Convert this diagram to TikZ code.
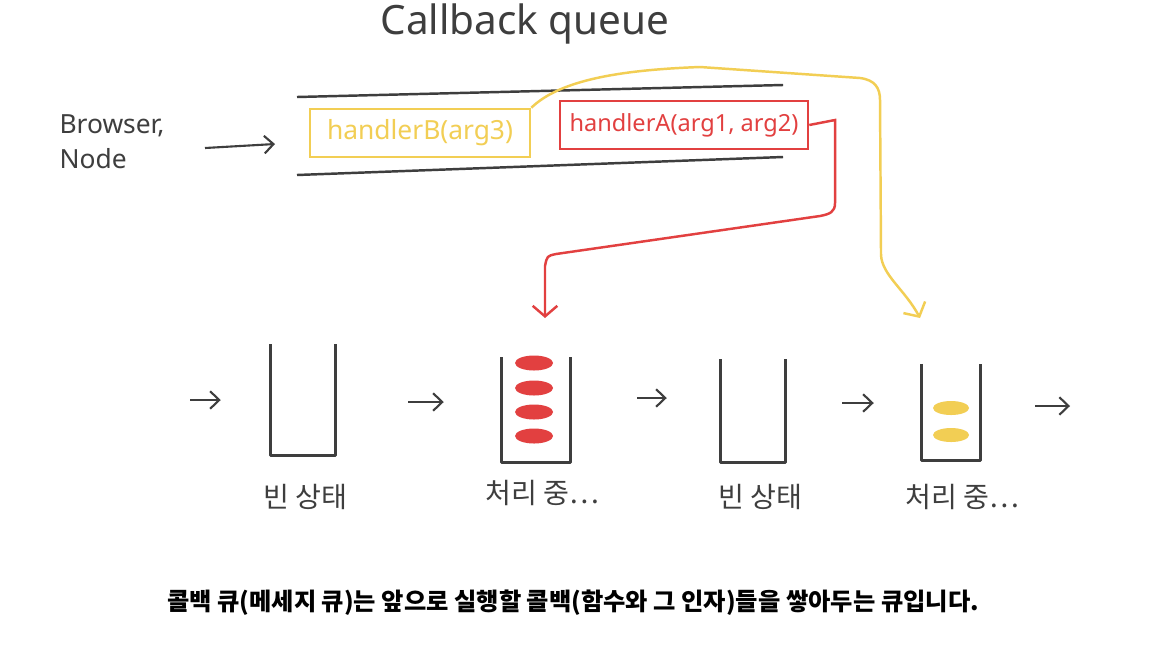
\documentclass[tikz,border=0pt]{standalone}
\usepackage{fontspec}
\setmainfont{Noto Sans}
\newfontfamily\kr{Noto Sans CJK KR}
\usetikzlibrary{arrows.meta}
\definecolor{ink}{RGB}{62,62,62}
\definecolor{cbred}{RGB}{226,64,64}
\definecolor{cbyel}{RGB}{242,206,84}
\tikzset{
  cup/.style={inner sep=0pt, minimum width=#1},
  hand/.style={text=ink, font=\fontsize{7.5}{9}\selectfont},
  state/.style={text=ink, font=\kr\fontsize{8}{9}\selectfont},
  flow/.style={ink, line width=0.6pt, -{Straight Barb[length=2.6pt,width=5pt]}},
  slot/.style={draw, line width=0.7pt, inner sep=2pt, font=\fontsize{#1}{9}\selectfont}
}
\begin{document}
\begin{tikzpicture}[x=0.01cm, y=-0.01cm]
\useasboundingbox[fill=white] (0,0) rectangle (1165,645);
\node[text=ink, font=\fontsize{11.5}{13}\selectfont] (title) at (525,24) {Callback queue};
\node[hand, align=left] (src) at (112,142) {Browser,\\[1pt]Node};
% queue
\coordinate (qtl) at (297,97); \coordinate (qtr) at (783,85); \coordinate (qbl) at (297,175); \coordinate (qbr) at (783,157);
\draw[ink, line width=0.7pt] (qtl) -- (qtr); \draw[ink, line width=0.7pt] (qbl) -- (qbr);
\node[slot=7.5, cbyel, text=cbyel, minimum width=2.2cm, minimum height=0.48cm] (hB) at (420,133) {handlerB(arg3)};
\node[slot=6.7, cbred, text=cbred, minimum width=2.48cm, minimum height=0.48cm] (hA) at (684,125) {handlerA(arg1, arg2)};
\coordinate (qin) at (275,144);
\draw[flow] (205,148) -- (qin);
% containers
\node[cup=0.63cm, minimum height=1.10cm] (c1) at (303,400) {};
\node[cup=0.67cm, minimum height=1.04cm] (c2) at (536,410) {};
\node[cup=0.63cm, minimum height=1.02cm] (c3) at (753,411) {};
\node[cup=0.57cm, minimum height=0.95cm] (c4) at (951,412) {};
\foreach \c in {c1,c2,c3,c4} \draw[ink, line width=0.8pt, line join=round] (\c.north west) |- (\c.south east) -- (\c.north east);
\foreach \y in {363,388,412,436} \fill[cbred] (534,\y) ellipse (0.19cm and 0.075cm);
\foreach \y in {408,435} \fill[cbyel] (951,\y) ellipse (0.18cm and 0.07cm);
\coordinate (fin) at (190,400); \coordinate (fout) at (1070,406);
\draw[flow, shorten <=0cm, shorten >=0.5cm] (fin) -- (c1.west |- fin);
\draw[flow, shorten <=0.73cm, shorten >=0.58cm] (c1.east |- 0,402) -- (c2.west |- 0,402);
\draw[flow, shorten <=0.67cm, shorten >=0.54cm] (c2.east |- 0,398) -- (c3.west |- 0,398);
\draw[flow, shorten <=0.57cm, shorten >=0.48cm] (c3.east |- 0,403) -- (c4.west |- 0,403);
\draw[flow, shorten <=0.55cm] (c4.east |- fout) -- (fout);
\node[state] (l1) at (305,497) {빈 상태}; \node[state] (l2) at (542,493) {처리 중…};
\node[state] (l3) at (760,497) {빈 상태}; \node[state] (l4) at (962,497) {처리 중…};
% handlers moving out
\coordinate (rin) at (545,318); \coordinate (yin) at (920,318);
\draw[cbred, line width=0.7pt, -{Straight Barb[length=3pt,width=7pt]}] (hA.east) -- (835,120) -- (835,203) .. controls (835,212) and (830,214) .. (820,216) -- (556,254) .. controls (547,256) .. (545,266) -- (rin);
\draw[cbyel, line width=0.7pt, -{Straight Barb[length=3pt,width=7pt]}] (hB.north east) .. controls (560,80) and (620,70) .. (700,67) -- (860,78) .. controls (875,80) and (880,88) .. (880,100) -- (881,255) .. controls (882,275) and (905,290) .. (yin);
\node[font=\kr\bfseries\fontsize{6.9}{8}\selectfont] (note) at (573,603) {콜백 큐(메세지 큐)는 앞으로 실행할 콜백(함수와 그 인자)들을 쌓아두는 큐입니다.};
\end{tikzpicture}
\end{document}
